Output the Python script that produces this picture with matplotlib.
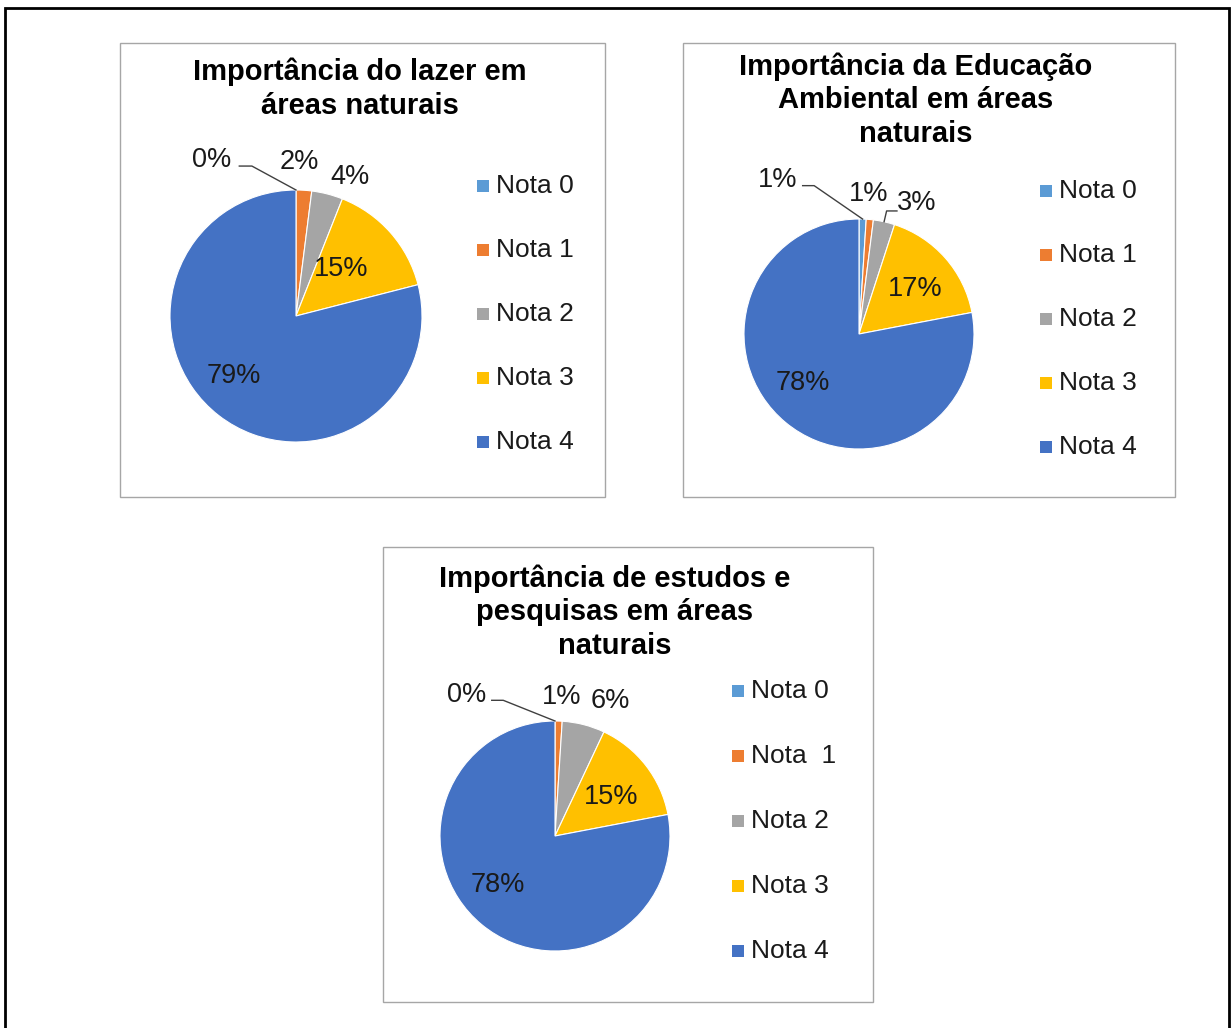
import matplotlib
matplotlib.use("Agg")
import matplotlib.pyplot as plt
from matplotlib.patches import Rectangle
import numpy as np

plt.rcParams["font.family"] = ["Liberation Sans", "DejaVu Sans"]

W, H = 1231, 1028

# data
categories = ["Nota 0", "Nota 1", "Nota 2", "Nota 3", "Nota 4"]
categories_c = ["Nota 0", "Nota  1", "Nota 2", "Nota 3", "Nota 4"]
colors = ["#5B9BD5", "#ED7D31", "#A5A5A5", "#FFC000", "#4472C4"]

lazer = [0, 2, 4, 15, 79]
educacao = [1, 1, 3, 17, 78]
pesquisa = [0, 1, 6, 15, 78]

titles = [
    "Importância do lazer em\náreas naturais",
    "Importância da Educação\nAmbiental em áreas\nnaturais",
    "Importância de estudos e\npesquisas em áreas\nnaturais",
]

# layout (pixels): chart box, pie centre/radius, title centre, legend start
charts = [
    dict(values=lazer, labels=categories, box=(120, 43, 605, 497),
         centre=(296, 316), r=126, title_xy=(360, 89), legend=(477, 186, 64),
         label_pos=[(-0.67, 1.24), (0.03, 1.22), (0.43, 1.10), (0.36, 0.37), (-0.49, -0.48)],
         leaders=[0]),
    dict(values=educacao, labels=categories, box=(683, 43, 1175, 497),
         centre=(859, 334), r=115, title_xy=(916, 100), legend=(1040, 191, 64),
         label_pos=[(-0.71, 1.34), (0.08, 1.22), (0.50, 1.14), (0.49, 0.39), (-0.49, -0.43)],
         leaders=[0, 2]),
    dict(values=pesquisa, labels=categories_c, box=(383, 547, 873, 1002),
         centre=(555, 836), r=115, title_xy=(615, 612), legend=(732, 691, 65),
         label_pos=[(-0.77, 1.23), (0.06, 1.21), (0.48, 1.17), (0.49, 0.34), (-0.50, -0.43)],
         leaders=[0]),
]

fig = plt.figure(figsize=(W / 100, H / 100), dpi=100)


def fx(x):
    return x / W


def fy(y):
    return 1 - y / H


# outer frame
fig.patches.append(Rectangle((fx(5), fy(1040)), fx(1229) - fx(5), fy(8) - fy(1040),
                             transform=fig.transFigure, fill=False,
                             edgecolor="black", linewidth=2))

for c, title in zip(charts, titles):
    x0, y0, x1, y1 = c["box"]
    fig.patches.append(Rectangle((fx(x0), fy(y1)), fx(x1) - fx(x0), fy(y0) - fy(y1),
                                 transform=fig.transFigure, fill=False,
                                 edgecolor="#A6A6A6", linewidth=1))

    tx, ty = c["title_xy"]
    fig.text(fx(tx), fy(ty), title, ha="center", va="center", fontsize=21,
             fontweight="bold", color="black", linespacing=1.25)

    cx, cy = c["centre"]
    r = c["r"]
    ax = fig.add_axes([fx(cx - r), fy(cy + r), 2 * r / W, 2 * r / H])
    wedges, _ = ax.pie(c["values"], colors=colors, startangle=90, counterclock=False,
                       radius=1, wedgeprops=dict(edgecolor="white", linewidth=0.8))
    ax.set_xlim(-1, 1)
    ax.set_ylim(-1, 1)
    ax.axis("off")

    for v, (lx, ly) in zip(c["values"], c["label_pos"]):
        ax.text(lx, ly, f"{v}%", ha="center", va="center", fontsize=19.5,
                color="#1a1a1a", clip_on=False)

    # leader lines for the small outer labels
    for i in c["leaders"]:
        w = wedges[i]
        mid = np.deg2rad((w.theta1 + w.theta2) / 2)
        ex, ey = np.cos(mid), np.sin(mid)
        lx, ly = c["label_pos"][i]
        if lx < ex:
            sx, kx, ky = lx + 0.22, lx + 0.32, ly - 0.05
        else:
            sx, kx, ky = lx - 0.17, lx - 0.26, ly - 0.07
        ax.plot([sx, kx, ex], [ky, ky, ey], color="#404040", linewidth=1, clip_on=False)

    lx0, ly0, step = c["legend"]
    for k, (lab, col) in enumerate(zip(c["labels"], colors)):
        yy = ly0 + k * step
        fig.patches.append(Rectangle((fx(lx0), fy(yy + 6)), 12 / W, 12 / H,
                                     transform=fig.transFigure, facecolor=col,
                                     edgecolor="none"))
        fig.text(fx(lx0 + 19), fy(yy), lab, ha="left", va="center", fontsize=19,
                 color="#1a1a1a")

fig.savefig("out.png", dpi=100)
